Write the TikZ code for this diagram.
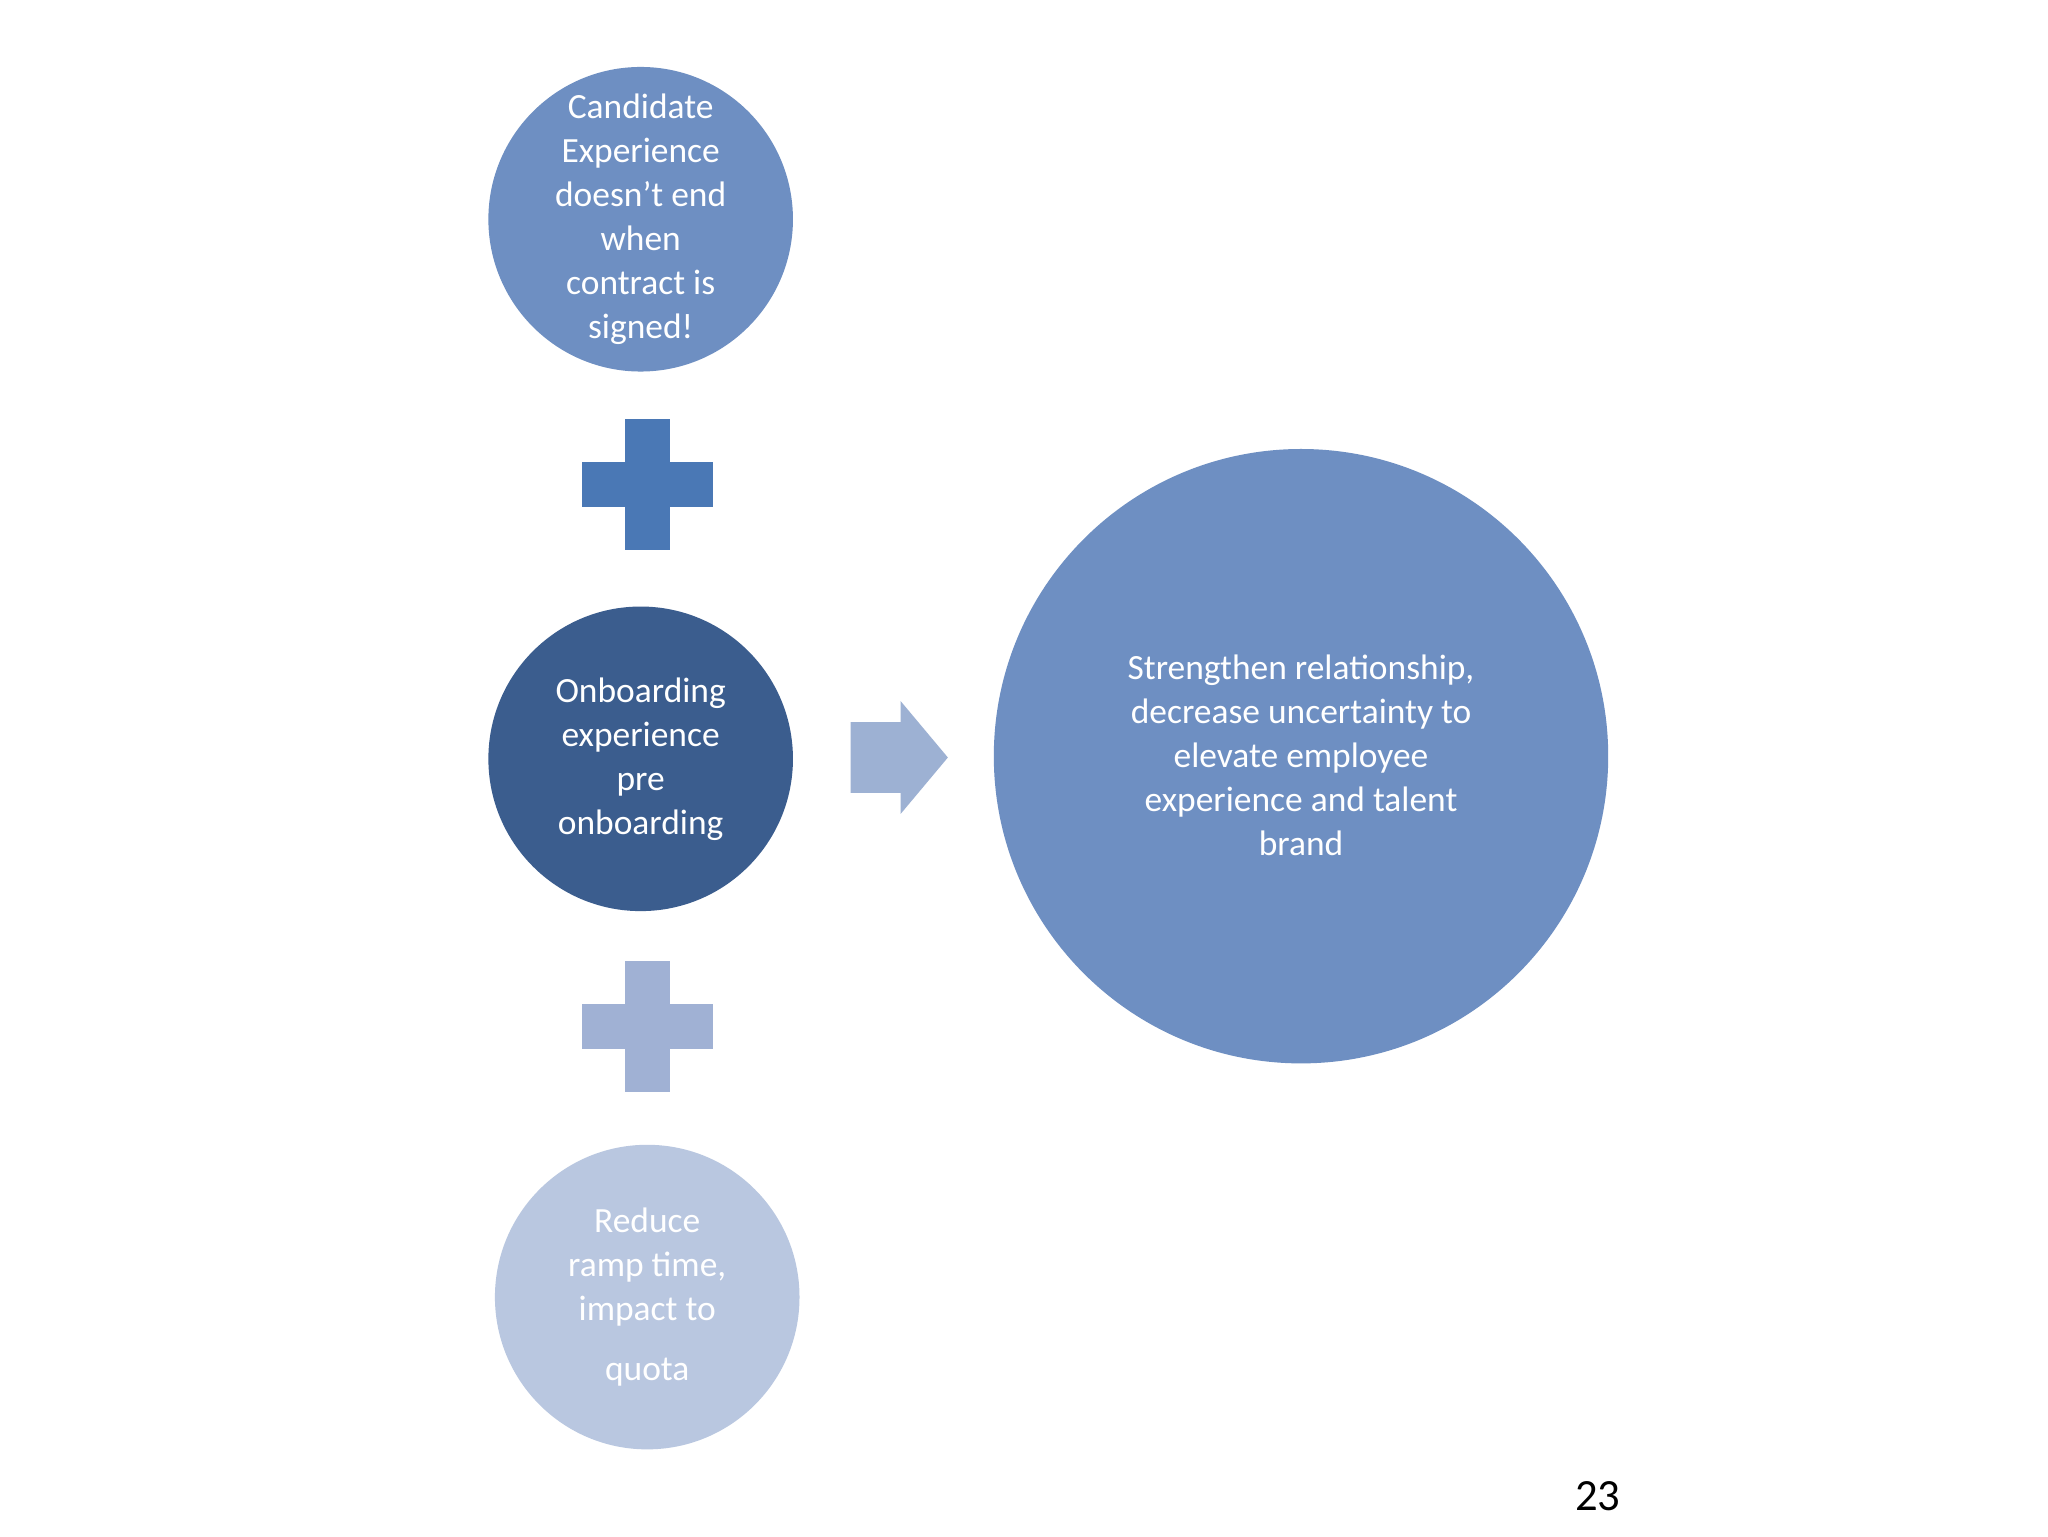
\documentclass[tikz,border=0pt]{standalone}
\usepackage{fontspec}
\setmainfont{Carlito}
\begin{document}
\begin{tikzpicture}[x=1pt,y=-1pt,
  circ/.style={circle,inner sep=0pt,text=white,align=center,font=\fontsize{27}{33.5}\selectfont},
  plusbar/.style={inner sep=0pt,minimum width=100pt,minimum height=34pt}]
\useasboundingbox (0,0) rectangle (1560,1170);
\fill[white] (0,0) rectangle (1560,1170);
\definecolor{cA}{HTML}{6E8FC2}\definecolor{cB}{HTML}{3B5D8E}
\definecolor{cC}{HTML}{B9C7E0}\definecolor{cP}{HTML}{4A78B5}
\definecolor{cQ}{HTML}{A0B1D4}\definecolor{cR}{HTML}{9DB1D3}
\node[circ,fill=cA,minimum size=232pt] (c1) at (488,167) {Candidate\\Experience\\doesn’t end\\when\\contract is\\signed!};
\node[circ,fill=cB,minimum size=232pt] (c2) at (488,578) {Onboarding\\experience\\pre\\onboarding};
\node[circ,fill=cC,minimum size=232pt] (c3) at (493,988) {Reduce\\ramp time,\\impact to\\[12pt]quota};
\node[circ,fill=cA,minimum size=468pt] (c4) at (991,576) {};
\node[text=white,align=center,font=\fontsize{27}{33.5}\selectfont] (t4) at (991,575) {Strengthen relationship,\\decrease uncertainty to\\elevate employee\\experience and talent\\brand};
\node[plusbar,fill=cP] (p1h) at (493,369) {};
\node[plusbar,fill=cP,rotate=90] (p1v) at (493,369) {};
\node[plusbar,fill=cQ] (p2h) at (493,782) {};
\node[plusbar,fill=cQ,rotate=90] (p2v) at (493,782) {};
\coordinate (a0) at (648,577);
\fill[cR] (648,550) -- (686,550) -- (686,534) -- (722,577) -- (686,620) -- (686,604) -- (648,604) -- cycle;
\node[font=\fontsize{34}{40}\selectfont] (pg) at (1217,1140) {23};
\end{tikzpicture}
\end{document}
